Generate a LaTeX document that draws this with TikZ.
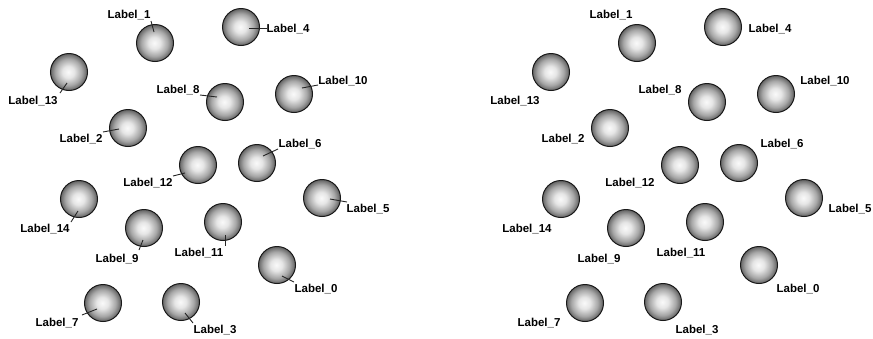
\documentclass[tikz,border=0pt]{standalone}
\usepackage{fontspec}
\setmainfont{Liberation Sans}
\pgfdeclareradialshading{orb}{\pgfpoint{-1bp}{0bp}}{color(0bp)=(white!98!black); color(8bp)=(white!90!black); color(18bp)=(black!35); color(25bp)=(black!62); color(50bp)=(black!62)}
\tikzset{
  orbnode/.style={circle, minimum size=37pt, inner sep=0pt, shading=orb, draw=black!90, line width=1pt},
  lbl/.style={inner sep=0pt, font=\fontsize{11.5}{12}\selectfont\bfseries, text=black},
  leader/.style={draw=black!85, line width=0.9pt}
}
\begin{document}
\begin{tikzpicture}[x=1pt,y=-1pt]
\useasboundingbox (0,0) rectangle (873,338);
\foreach \p/\dx in {L/0,R/482}{
  \begin{scope}[xshift=\dx]
  \foreach \i/\cx/\cy/\tx/\ty in {0/277/265/316/289, 1/155/43/129/15, 2/128/128/81/139, 3/181/302/215/330, 4/241/27/288/29, 5/322/198/368/209, 6/257/163/300/144, 7/103/303/57/323, 8/225/102/178/90, 9/144/228/117/259, 10/294/94/343/81, 11/223/222/199/253, 12/198/165/148/183, 13/69/72/33/101, 14/79/199/45/229}{
    \node[orbnode] (c\p\i) at (\cx,\cy) {};
    \node[lbl] (l\p\i) at (\tx,\ty) {Label\_\i};
  }
  \end{scope}
}
\foreach \i/\ax/\ay/\bx/\by in {0/282/276/294/282, 1/151/21/154/32, 2/103/132/119/129, 3/185/313/193/323, 4/249/28/267/28, 5/330/199/347/202, 6/263/156/278/149, 7/82/315/97/309, 8/200/95/217/97, 9/139/250/143/240, 10/302/88/318/85, 11/225/235/225/246, 12/173/176/185/173, 13/60/93/67/83, 14/71/222/78/211}{
  \coordinate (a\i) at (\ax,\ay);
  \coordinate (b\i) at (\bx,\by);
  \draw[leader] (a\i) -- (b\i);
}
\end{tikzpicture}
\end{document}
